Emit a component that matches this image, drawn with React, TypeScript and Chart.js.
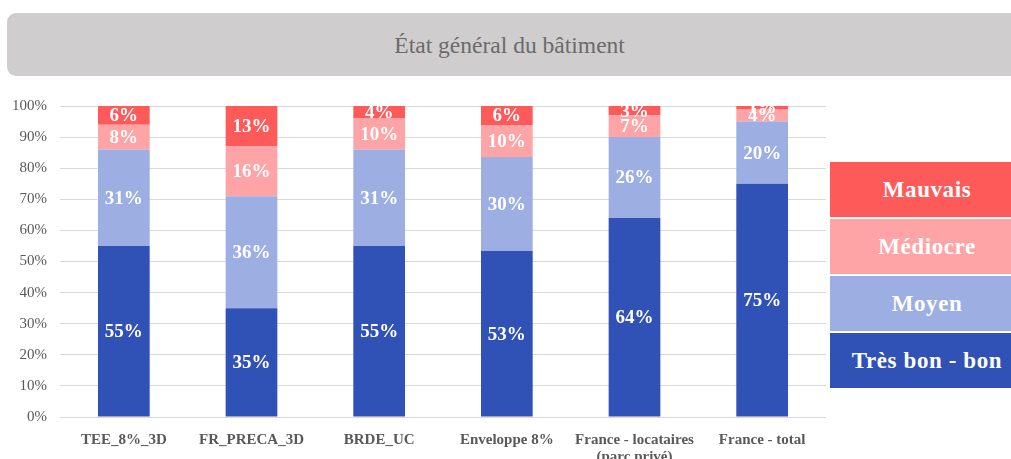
import React, { useEffect, useRef } from "react";
import { Chart, registerables } from "chart.js";

Chart.register(...registerables);

const categories: (string | string[])[] = [
  "TEE_8%_3D",
  "FR_PRECA_3D",
  "BRDE_UC",
  "Enveloppe 8%",
  ["France - locataires", "(parc privé)"],
  "France - total",
];
const tresBonBon = [55, 35, 55, 53.4, 64, 75];
const moyen = [31, 36, 31, 30.2, 26, 20];
const mediocre = [8, 16, 10, 10.3, 7, 4];
const mauvais = [6, 13, 4, 6.1, 3, 1];
const yTicks = [0, 10, 20, 30, 40, 50, 60, 70, 80, 90, 100];

const seriesNames = ["Très bon - bon", "Moyen", "Médiocre", "Mauvais"];
const seriesColors = ["#3051b5", "#9caee2", "#ffa4a6", "#ff5a5a"];

const SERIF = "'Liberation Serif', 'Times New Roman', serif";

const labelPlugin = {
  id: "segLabels",
  afterDatasetsDraw(chart: any) {
    const ctx = chart.ctx;
    ctx.save();
    ctx.fillStyle = "#ffffff";
    ctx.font = `bold 19px ${SERIF}`;
    ctx.textAlign = "center";
    ctx.textBaseline = "middle";
    chart.data.datasets.forEach((ds: any, di: number) => {
      const meta = chart.getDatasetMeta(di);
      meta.data.forEach((bar: any, i: number) => {
        const v = ds.data[i];
        const cy = (bar.y + bar.base) / 2;
        ctx.fillText(Math.round(v) + "%", bar.x, cy + 1);
      });
    });
    ctx.restore();
  },
};

export default function App() {
  const ref = useRef<HTMLCanvasElement>(null);
  useEffect(() => {
    const data = [tresBonBon, moyen, mediocre, mauvais];
    const chart = new Chart(ref.current!, {
      type: "bar",
      data: {
        labels: categories,
        datasets: data.map((d, i) => ({
          label: seriesNames[i],
          data: d,
          backgroundColor: seriesColors[i],
          borderWidth: 0,
          barPercentage: 0.405,
          categoryPercentage: 1,
        })),
      },
      options: {
        animation: false,
        responsive: false,
        maintainAspectRatio: false,
        layout: { padding: { top: 26, right: 4, left: 0, bottom: 0 } },
        plugins: { legend: { display: false }, tooltip: { enabled: false } },
        scales: {
          x: {
            stacked: true,
            grid: { display: false },
            border: { display: false },
            ticks: {
              color: "#595959",
              font: { family: SERIF, size: 15, weight: "bold", lineHeight: 1.15 },
              padding: 6,
              maxRotation: 0,
              autoSkip: false,
            },
            afterFit: (s: any) => {
              s.height = 42;
            },
          },
          y: {
            stacked: true,
            min: 0,
            max: 100,
            afterBuildTicks: (s: any) => {
              s.ticks = yTicks.map((v) => ({ value: v }));
            },
            grid: { color: "#d9d9d9", drawTicks: false, lineWidth: 1 },
            border: { display: false },
            ticks: {
              color: "#595959",
              font: { family: SERIF, size: 15 },
              padding: 13,
              callback: (v: any) => v + "%",
            },
            afterFit: (s: any) => {
              s.width = 60;
            },
          },
        },
      },
      plugins: [labelPlugin],
    });
    return () => chart.destroy();
  }, []);

  const legendOrder = [3, 2, 1, 0];
  return (
    <div
      style={{
        position: "fixed",
        left: 0,
        top: 0,
        width: 1011,
        height: 459,
        background: "#ffffff",
        overflow: "hidden",
        fontFamily: SERIF,
      }}
    >
      <div
        style={{
          position: "absolute",
          left: 7,
          top: 13,
          width: 1020,
          height: 63,
          background: "#cfcdce",
          borderRadius: 9,
          display: "flex",
          alignItems: "center",
          justifyContent: "center",
          paddingRight: 14,
          paddingTop: 2,
          boxSizing: "border-box",
        }}
      >
        <span
          style={{
            fontSize: 24,
            color: "#6b6b6b",
            fontFamily: SERIF,
            display: "inline-block",
            transform: "scaleX(0.98)",
          }}
        >
          État général du bâtiment
        </span>
      </div>
      <canvas
        ref={ref}
        width={830}
        height={379}
        style={{ position: "absolute", left: 0, top: 80, width: 830, height: 379 }}
      />
      <div style={{ position: "absolute", left: 830, top: 162, width: 190 }}>
        {legendOrder.map((i) => (
          <div
            key={i}
            style={{
              height: 55,
              marginBottom: 2,
              background: seriesColors[i],
              color: "#ffffff",
              fontWeight: "bold",
              fontSize: 23,
              letterSpacing: 0.6,
              display: "flex",
              alignItems: "center",
              justifyContent: "center",
              paddingLeft: 6,
              paddingRight: 2,
              boxSizing: "border-box",
              fontFamily: SERIF,
            }}
          >
            {seriesNames[i]}
          </div>
        ))}
      </div>
    </div>
  );
}
